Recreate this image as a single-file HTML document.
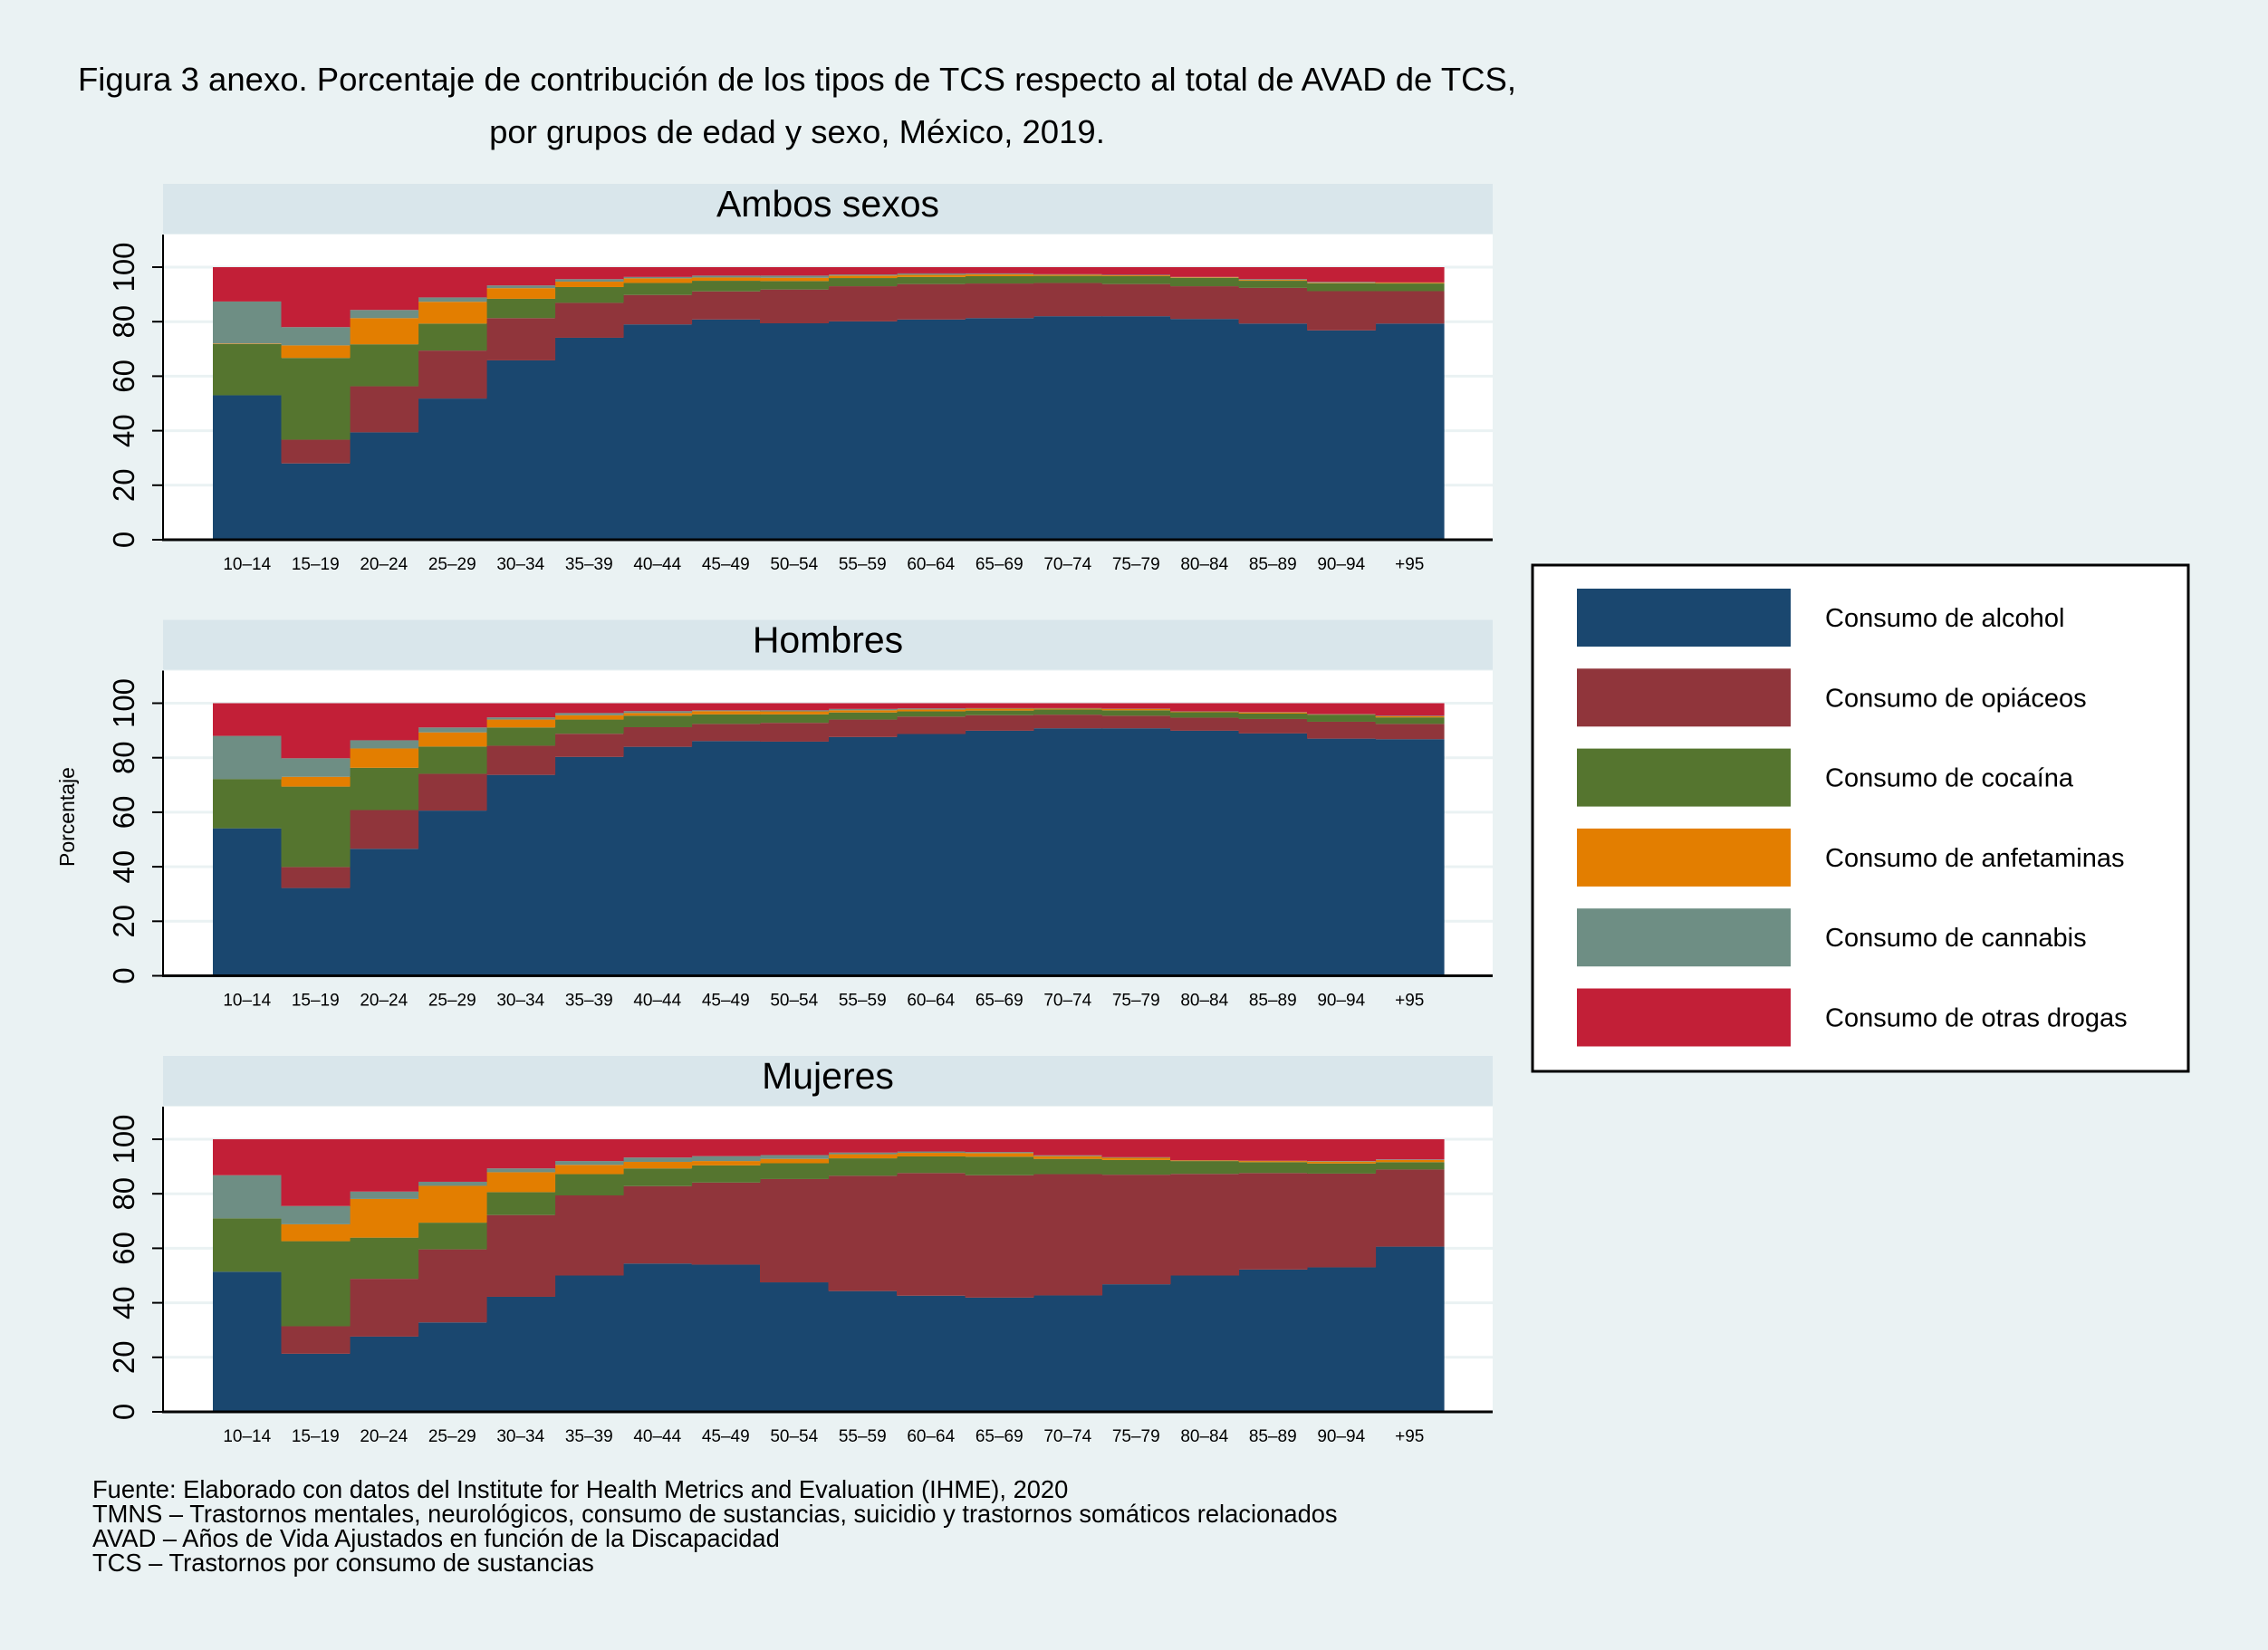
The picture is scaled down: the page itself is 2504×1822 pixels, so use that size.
<!DOCTYPE html>
<html><head><meta charset="utf-8"><style>
body{margin:0;background:#eaf2f3;}
svg{display:block;font-family:"Liberation Sans",sans-serif;}
</style></head><body>
<svg id="chart" width="2504" height="1822" viewBox="0 0 2504 1822" xmlns="http://www.w3.org/2000/svg">
<rect x="0" y="0" width="2504" height="1822" fill="#eaf2f3"/>
<text x="880" y="100" font-size="36.5" text-anchor="middle">Figura 3 anexo. Porcentaje de contribución de los tipos de TCS respecto al total de AVAD de TCS,</text>
<text x="880" y="158" font-size="36.5" text-anchor="middle">por grupos de edad y sexo, México, 2019.</text>
<text transform="translate(82,902) rotate(-90)" font-size="23" text-anchor="middle">Porcentaje</text>
<g id="panels"></g>
<g>
<rect x="1692" y="624" width="724" height="559" fill="#fff" stroke="#000" stroke-width="3"/>
<g id="legend-items"></g>
</g>
<g font-size="27.3">
<text x="102" y="1654">Fuente: Elaborado con datos del Institute for Health Metrics and Evaluation (IHME), 2020</text>
<text x="102" y="1681">TMNS – Trastornos mentales, neurológicos, consumo de sustancias, suicidio y trastornos somáticos relacionados</text>
<text x="102" y="1708">AVAD – Años de Vida Ajustados en función de la Discapacidad</text>
<text x="102" y="1735">TCS – Trastornos por consumo de sustancias</text>
</g>
</svg>
<script>
const categories = ["10–14","15–19","20–24","25–29","30–34","35–39","40–44","45–49","50–54","55–59","60–64","65–69","70–74","75–79","80–84","85–89","90–94","+95"];
const seriesNames = ["Consumo de alcohol","Consumo de opiáceos","Consumo de cocaína","Consumo de anfetaminas","Consumo de cannabis","Consumo de otras drogas"];
const seriesColors = ["#1a476f","#90353b","#55752f","#e37e00","#6e8e84","#c21f37"];
const yTicks = [0,20,40,60,80,100];
const panelTitles = ["Ambos sexos","Hombres","Mujeres"];

const ambosAlcohol = [53,28,39.4,51.8,65.8,74.1,79,80.8,79.4,80.1,80.8,81.3,82,82,81,79.3,76.8,79.3];
const ambosOpiaceos = [0,8.7,16.9,17.6,15.5,12.8,10.8,10.3,12.4,12.9,13,12.7,12.2,11.8,12,13.1,14.4,11.9];
const ambosCocaina = [18.8,30,15.4,9.9,7.1,5.8,4.4,3.9,3.1,3,2.6,2.7,2.6,2.9,3.1,2.6,2.9,2.8];
const ambosAnfetaminas = [0.2,4.6,9.6,8,3.9,2,1.7,1.2,1.2,0.9,0.8,0.7,0.4,0.3,0.2,0.3,0.2,0.3];
const ambosCannabis = [15.4,6.7,3,1.6,1,0.9,0.5,0.7,0.8,0.4,0.5,0.3,0.2,0.2,0.1,0.3,0.3,0.1];
const ambosOtras = [12.6,22,15.7,11.1,6.7,4.4,3.6,3.1,3.1,2.7,2.3,2.3,2.6,2.8,3.6,4.4,5.4,5.6];

const hombresAlcohol = [54.1,32.2,46.6,60.6,73.7,80.3,84,86.1,85.9,87.6,88.7,89.9,90.8,90.8,89.9,88.9,87,86.8];
const hombresOpiaceos = [0,7.7,14.2,13.5,10.7,8.5,7.2,6.3,6.9,6.4,6.4,5.7,5,4.6,4.8,5.3,6.2,5.6];
const hombresCocaina = [18.1,29.5,15.5,10,6.7,5.2,4.2,3.5,3.1,2.6,1.9,1.7,1.9,2,2,2,2.6,2.4];
const hombresAnfetaminas = [0,3.6,7.1,5.2,2.9,1.6,1,1.2,1.1,0.8,0.7,0.7,0.3,0.5,0.2,0.4,0.1,0.4];
const hombresCannabis = [15.8,6.8,3,1.8,0.8,0.8,0.7,0.3,0.4,0.5,0.4,0.2,0.2,0.1,0.1,0.1,0.1,0.2];
const hombresOtras = [12,20.2,13.6,8.9,5.2,3.6,2.9,2.6,2.6,2.1,1.9,1.8,1.8,2,3,3.3,4,4.6];

const mujeresAlcohol = [51.4,21.3,27.6,32.8,42.2,50,54.4,54,47.5,44.3,42.6,41.9,42.7,46.8,50,52.2,53,60.6];
const mujeresOpiaceos = [0,10.1,21.2,26.8,30,29.4,28.4,30.1,37.9,42.3,45,44.9,44.5,40.2,37.3,35.4,34.4,28.3];
const mujeresCocaina = [19.6,31.2,15.1,9.8,8.4,7.8,6.5,6.3,5.8,6.4,6.1,6.8,5.6,5.4,4.7,4,3.7,2.7];
const mujeresAnfetaminas = [0,6.2,14.2,13.5,7.3,3.4,2.4,1.6,1.6,1.5,1.3,1.3,1,0.8,0.2,0.4,0.7,0.8];
const mujeresCannabis = [15.8,6.7,2.7,1.5,1.4,1.4,1.6,1.8,1.4,0.6,0.5,0.4,0.3,0.2,0.1,0.1,0.2,0.2];
const mujeresOtras = [13.2,24.5,19.2,15.6,10.7,8,6.7,6.2,5.8,4.9,4.5,4.7,5.9,6.6,7.7,7.9,8,7.4];

const panelData = [
  [ambosAlcohol,ambosOpiaceos,ambosCocaina,ambosAnfetaminas,ambosCannabis,ambosOtras],
  [hombresAlcohol,hombresOpiaceos,hombresCocaina,hombresAnfetaminas,hombresCannabis,hombresOtras],
  [mujeresAlcohol,mujeresOpiaceos,mujeresCocaina,mujeresAnfetaminas,mujeresCannabis,mujeresOtras]
];

const NS = "http://www.w3.org/2000/svg";
function mk(tag, attrs, parent){
  const e = document.createElementNS(NS, tag);
  for (const k in attrs) e.setAttribute(k, attrs[k]);
  parent.appendChild(e);
  return e;
}
const panelsG = document.getElementById("panels");
const plotL = 180, plotR = 1648, barL = 235, barR = 1594;
const barW = (barR - barL) / categories.length;
const xScale = i => barL + i * barW;

panelData.forEach((series, p) => {
  const off = p * 481.5;
  const y0 = 596 + off, y100 = 295 + off;
  const yScale = v => y0 - (v / 100) * (y0 - y100);
  const g = mk("g", {}, panelsG);
  
  
  const hdr = mk("rect", {x:plotL, y:203+off, width:plotR-plotL, height:55, fill:"#d9e6eb"}, g);
  
  
  const ht = mk("text", {x:(plotL+plotR)/2, y:239+off, "font-size":41, "text-anchor":"middle"}, g);
  ht.textContent = panelTitles[p];
  
  
  const pa = mk("rect", {x:plotL, y:259+off, width:plotR-plotL, height:y0-259-off, fill:"#fff"}, g);
  
  
  yTicks.forEach(t => {
    const gl = mk("line", {x1:plotL, x2:plotR, y1:yScale(t), y2:yScale(t), stroke:"#eaf2f3", "stroke-width":3}, g);
    
    
  });
  const cum = categories.map(() => 0);
  series.forEach((vals, s) => {
    vals.forEach((v, i) => {
      const b = cum[i], t = cum[i] + v;
      cum[i] = t;
      if (v <= 0) return;
      const r = mk("rect", {x:xScale(i), y:yScale(t), width:barW+0.6, height:yScale(b)-yScale(t), fill:seriesColors[s]}, g);
      
      
    });
  });
  const ax = mk("line", {x1:plotL, x2:plotL, y1:259+off, y2:y0, stroke:"#000", "stroke-width":2}, g);
  
  
  const xa = mk("line", {x1:plotL-1, x2:plotR, y1:y0, y2:y0, stroke:"#000", "stroke-width":3}, g);
  
  
  yTicks.forEach(t => {
    const tk = mk("line", {x1:plotL-12, x2:plotL, y1:yScale(t), y2:yScale(t), stroke:"#000", "stroke-width":2}, g);
    
    
    const tl = mk("text", {transform:`translate(148,${yScale(t)}) rotate(-90)`, "font-size":33, "text-anchor":"middle"}, g);
    tl.textContent = t;
    
    
  });
  categories.forEach((c, i) => {
    const xl = mk("text", {x:xScale(i)+barW/2, y:y0+33, "font-size":19, "text-anchor":"middle"}, g);
    xl.textContent = c;
    
    
  });
});

const lg = document.getElementById("legend-items");
seriesNames.forEach((n, s) => {
  const y = 650 + s * 88.3;
  const sw = mk("rect", {x:1741, y:y, width:236, height:64, fill:seriesColors[s]}, lg);
  
  
  const lt = mk("text", {x:2015, y:y+42, "font-size":29}, lg);
  lt.textContent = n;
  
  
});
</script>
</body></html>
